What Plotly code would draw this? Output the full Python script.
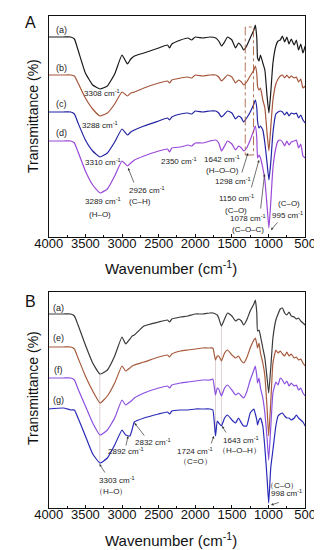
import plotly.graph_objects as go

# ---------------- data ----------------
WN_A = [4000, 3800, 3700, 3650, 3600, 3500, 3400, 3300, 3200, 3100,
        3000, 2926, 2880, 2830, 2700, 2500, 2380, 2350, 2320, 2200,
        2100, 2050, 2000, 1900, 1800, 1720, 1680, 1642, 1600, 1560,
        1500, 1450, 1410, 1370, 1340, 1298, 1250, 1200, 1180, 1160,
        1150, 1130, 1110, 1078, 1050, 1020, 995, 970, 940, 900,
        870, 840, 810, 780, 750, 720, 690, 650, 620, 590,
        560, 530, 500]

A_a = [200, 200, 200, 198, 187, 164, 152, 148, 151, 163,
       182, 173, 178, 181, 184, 189, 192, 189, 193, 197,
       199, 197, 200, 199, 200, 199, 196, 191, 195, 200,
       197, 189, 194, 191, 187, 191, 199, 207, 212, 199,
       179, 176, 182, 174, 167, 141, 124, 144, 174, 191,
       196, 197, 201, 195, 200, 193, 198, 192, 197, 187,
       193, 184, 191]
A_b = [162, 162, 162, 161, 154, 139, 128, 121, 124, 133,
       145, 141, 144, 145, 149, 154, 156, 154, 157, 159,
       160, 159, 162, 161, 162, 162, 160, 156, 159, 162,
       160, 154, 157, 155, 152, 155, 161, 167, 171, 163,
       151, 147, 149, 137, 129, 104, 86, 109, 137, 153,
       158, 161, 162, 159, 162, 159, 161, 159, 160, 155,
       158, 149, 151]
A_c = [125, 125, 125, 123, 114, 97, 86, 80, 84, 95,
       108, 102, 105, 107, 111, 116, 119, 117, 120, 123,
       124, 123, 126, 125, 126, 126, 124, 120, 123, 126,
       124, 118, 121, 119, 115, 119, 125, 133, 137, 129,
       116, 109, 111, 107, 94, 74, 57, 74, 104, 123,
       125, 126, 125, 122, 125, 121, 124, 123, 124, 119,
       122, 117, 114]
A_d = [96, 96, 96, 94, 85, 66, 52, 44, 48, 61,
       76, 71, 74, 77, 81, 86, 88, 85, 89, 90,
       92, 91, 94, 94, 96, 97, 94, 86, 91, 96,
       93, 87, 91, 89, 86, 89, 97, 107, 111, 99,
       79, 82, 79, 69, 57, 31, 9, 34, 69, 89,
       96, 97, 95, 91, 96, 92, 95, 96, 97, 89,
       93, 81, 79]

WN_B = [4000, 3800, 3700, 3650, 3600, 3500, 3400, 3300, 3200, 3100,
        3000, 2950, 2892, 2860, 2832, 2700, 2500, 2380, 2350, 2320,
        2200, 2100, 2000, 1900, 1800, 1760, 1724, 1700, 1680, 1643,
        1600, 1560, 1500, 1450, 1410, 1370, 1340, 1298, 1250, 1200,
        1180, 1160, 1150, 1130, 1110, 1078, 1050, 1020, 998, 970,
        940, 900, 870, 840, 810, 780, 750, 720, 690, 650,
        620, 590, 560, 530, 500]

B_a = [194, 194, 194, 192, 183, 163, 145, 134, 138, 152,
       171, 164, 169, 172, 173, 182, 186, 188, 186, 189,
       191, 192, 194, 194, 195, 195, 194, 193, 190, 182,
       189, 195, 192, 187, 189, 187, 183, 188, 197, 204,
       208, 195, 177, 178, 172, 160, 150, 130, 115, 140,
       170, 188, 194, 199, 200, 195, 193, 196, 192, 191,
       189, 190, 187, 185, 183]
B_e = [161, 161, 161, 159, 150, 132, 117, 105, 112, 125,
       142, 137, 140, 142, 143, 146, 151, 153, 151, 154,
       157, 158, 159, 160, 160, 160, 148, 152, 152, 147,
       155, 158, 153, 150, 152, 147, 145, 150, 160, 168,
       170, 164, 160, 165, 155, 145, 132, 100, 72, 105,
       145, 158, 155, 157, 154, 152, 156, 152, 154, 150,
       151, 148, 149, 145, 142]
B_f = [130, 130, 130, 128, 119, 102, 85, 73, 78, 90,
       108, 103, 106, 108, 110, 115, 120, 122, 120, 123,
       125, 126, 127, 128, 128, 129, 113, 120, 119, 112,
       120, 123, 118, 113, 115, 112, 110, 116, 128, 138,
       142, 132, 125, 130, 120, 110, 95, 70, 48, 80,
       115, 126, 123, 130, 128, 124, 127, 122, 125, 122,
       123, 118, 120, 115, 112]
B_g = [99, 100, 98, 98, 90, 72, 54, 45, 50, 63,
       78, 73, 72, 79, 86, 90, 94, 96, 94, 97,
       98, 98, 99, 99, 99, 98, 72, 87, 85, 82,
       90, 93, 88, 85, 90, 85, 82, 82, 95, 99,
       94, 88, 83, 88, 90, 82, 60, 30, 5, 40,
       58, 82, 92, 94, 95, 92, 90, 90, 88, 90,
       93, 90, 88, 86, 82]

TICKS = [4000, 3500, 3000, 2500, 2000, 1500, 1000, 500]

for arr in (A_a, A_b, A_c, A_d):
    assert len(arr) == len(WN_A)
for arr in (B_a, B_e, B_f, B_g):
    assert len(arr) == len(WN_B)

FONT = "Arial, Liberation Sans, sans-serif"
W, H = 322, 550

fig = go.Figure()

series = [
    (WN_A, A_a, "#1a1a1a", "x", "y"),
    (WN_A, A_b, "#a5553a", "x", "y"),
    (WN_A, A_c, "#2323a3", "x", "y"),
    (WN_A, A_d, "#9a48d8", "x", "y"),
    (WN_B, B_a, "#3a3a3a", "x2", "y2"),
    (WN_B, B_e, "#a65a3c", "x2", "y2"),
    (WN_B, B_f, "#8c50e0", "x2", "y2"),
    (WN_B, B_g, "#2a2ab8", "x2", "y2"),
]
for wn, vals, col, xa, ya in series:
    fig.add_trace(go.Scatter(x=wn, y=vals, mode="lines", xaxis=xa, yaxis=ya,
                             line=dict(color=col, width=1.2, shape="spline", smoothing=0.4),
                             showlegend=False, hoverinfo="skip"))

# guide lines in panel B
for wn0, y0, y1 in [(3303, 44, 134), (1724, 72, 148), (1643, 82, 182)]:
    fig.add_shape(type="line", xref="x2", yref="y2", x0=wn0, x1=wn0, y0=y0, y1=y1,
                  line=dict(color="rgba(200,180,180,0.6)", width=1), layer="below")

# dashed box in panel A
fig.add_shape(type="rect", xref="x", yref="y", x0=1318, x1=1205, y0=82, y1=210,
              line=dict(color="rgba(160,82,45,0.8)", width=1, dash="dashdot"))

ann = []
def txt(t, x, y, ax="x", ay="y", size=8):
    ann.append(dict(text=t, x=x, y=y, xref=ax, yref=ay, showarrow=False,
                    font=dict(family=FONT, size=size, color="#222")))

def arrow(x, y, tx, ty, ax="x", ay="y"):
    ann.append(dict(text="", x=x, y=y, ax=tx, ay=ty, xref=ax, yref=ay,
                    axref=ax, ayref=ay, showarrow=True, arrowhead=2,
                    arrowsize=0.7, arrowwidth=0.7, arrowcolor="#333"))

cm = "cm<sup>-1</sup>"
# panel A
txt("(a)", 3824, 207, size=9); txt("(b)", 3824, 169, size=9)
txt("(c)", 3824, 133, size=9); txt("(d)", 3824, 104, size=9)
txt("3308 " + cm, 3270, 144)
txt("3288 " + cm, 3295, 112)
txt("3310 " + cm, 3257, 75)
txt("3289 " + cm, 3257, 36); txt("(H–O)", 3295, 23)
txt("2926 " + cm, 2653, 47); txt("(C–H)", 2754, 36)
arrow(2917, 69, 2830, 53)
txt("2350 " + cm, 2225, 76)
txt("1642 " + cm, 1633, 78); txt("(H–O–O)", 1633, 67)
txt("1298 " + cm, 1482, 56)
arrow(1281, 84, 1370, 63)
txt("1150 " + cm, 1444, 39); txt("(C–O)", 1444, 27)
arrow(1130, 77, 1240, 48)
txt("1078 " + cm, 1281, 19); txt("(C–O–C)", 1281, 8)
arrow(1054, 63, 1110, 27)
txt("(C–O)", 714, 34); txt("995 " + cm, 739, 22)
arrow(966, 7, 860, 16)
# panel B
txt("(a)", 3862, 200, "x2", "y2", 9); txt("(e)", 3862, 170, "x2", "y2", 9)
txt("(f)", 3862, 138, "x2", "y2", 9); txt("(g)", 3862, 108, "x2", "y2", 9)
txt("3303 " + cm, 3068, 28, "x2", "y2"); txt("（H–O）", 3144, 17, "x2", "y2")
arrow(3308, 44, 3220, 34, "x2", "y2")
txt("2892 " + cm, 2942, 57, "x2", "y2")
arrow(2917, 72, 2950, 61, "x2", "y2")
txt("2832 " + cm, 2577, 66, "x2", "y2")
arrow(2829, 85, 2680, 71, "x2", "y2")
txt("1724 " + cm, 1998, 57, "x2", "y2"); txt("（C=O）", 1998, 47, "x2", "y2")
arrow(1746, 72, 1790, 63, "x2", "y2")
txt("1643 " + cm, 1381, 68, "x2", "y2"); txt("（H–O–H）", 1394, 58, "x2", "y2")
arrow(1633, 82, 1570, 74, "x2", "y2")
txt("（C–O）", 815, 23, "x2", "y2"); txt("998 " + cm, 752, 15, "x2", "y2")
arrow(966, 3, 840, 6, "x2", "y2")

# panel letters, axis titles
def ptxt(t, px, py, size, angle=0):
    ann.append(dict(text=t, x=px / W, y=1 - py / H, xref="paper", yref="paper",
                    showarrow=False, textangle=angle, xanchor="center", yanchor="middle",
                    font=dict(family=FONT, size=size, color="#111")))

ptxt("A", 9, 14, 16); ptxt("B", 9, 293, 16)
ptxt("Transmittance (%)", 12, 108, 14, -90)
ptxt("Transmittance (%)", 12, 380, 14, -90)
ptxt("Wavenumber (cm<sup>-1</sup>)", 162, 259, 15)
ptxt("Wavenumber (cm<sup>-1</sup>)", 162, 531, 15)

def xax(anchor, dom):
    return dict(domain=dom, anchor=anchor, range=[4000, 500], tickvals=TICKS,
                ticks="inside", ticklen=3, tickwidth=1, tickcolor="#111",
                ticklabelstandoff=-6,
                minor=dict(dtick=250, tick0=500, ticks="inside", ticklen=2, tickcolor="#111"),
                showline=True, linecolor="#111", linewidth=1.3, mirror=True,
                showgrid=False, zeroline=False,
                tickfont=dict(family=FONT, size=13, color="#111"))

def yax(anchor, dom, rng):
    return dict(domain=dom, anchor=anchor, range=rng, showticklabels=False, ticks="",
                showline=True, linecolor="#111", linewidth=1.3, mirror=True,
                showgrid=False, zeroline=False)

xd = [29 / W, 307 / W]
fig.update_layout(
    width=W, height=H, margin=dict(l=0, r=0, t=0, b=0),
    paper_bgcolor="white", plot_bgcolor="white",
    xaxis=xax("y", xd), yaxis=yax("x", [1 - 229 / H, 1 - 8 / H], [0, 221]),
    xaxis2=xax("y2", xd), yaxis2=yax("x2", [1 - 500 / H, 1 - 284 / H], [0, 216]),
    annotations=ann, showlegend=False,
)

fig.write_html("out.html")
